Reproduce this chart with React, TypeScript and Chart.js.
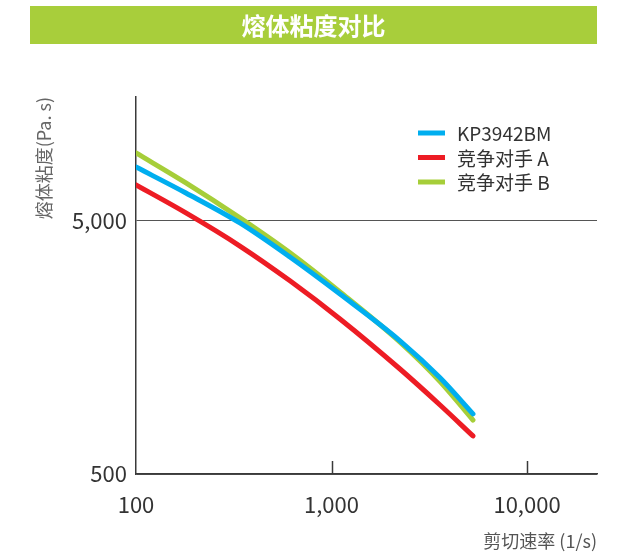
import React, { useEffect, useRef } from "react";
import { Chart, registerables } from "chart.js";

Chart.register(...registerables);

// ---- data ----
const shearRates = [100, 180, 340, 613, 1105, 2240, 3590, 5290];
const kp3942bm = [8170, 6450, 4910, 3600, 2570, 1680, 1200, 864];
const rivalA = [6940, 5380, 3980, 2900, 2050, 1300, 937, 707];
const rivalB = [9290, 7070, 5140, 3740, 2620, 1660, 1160, 817];
const seriesLabels = ["KP3942BM", "竞争对手 A", "竞争对手 B"];
const seriesColors = ["#00aeef", "#ed1c24", "#a6ce39"];
const xTickValues = [100, 1000, 10000];
const xInnerTickValues = [1000, 10000];
const yTickValues = [500, 5000];
const chartTitle = "熔体粘度对比";
const xTitle = "剪切速率 (1/s)";
const yTitle = "熔体粘度(Pa. s)";

const FONT = "'Noto Sans CJK SC', 'Noto Sans', sans-serif";
const AXIS_COLOR = "#3a3a3a";

const fmt = (v: any) => Number(v).toLocaleString("en-US");

const decorPlugin = {
  id: "decor",
  beforeDraw(chart: any) {
    const ctx = chart.ctx;
    ctx.save();
    ctx.fillStyle = "#ffffff";
    ctx.fillRect(0, 0, chart.width, chart.height);
    ctx.fillStyle = "#a8ce3b";
    ctx.fillRect(30, 6, 567, 38);
    ctx.fillStyle = "#ffffff";
    ctx.font = `bold 24px ${FONT}`;
    ctx.textAlign = "center";
    ctx.textBaseline = "middle";
    ctx.fillText(chartTitle, 313.5, 26);
    ctx.restore();
  },
  afterDraw(chart: any) {
    const ctx = chart.ctx;
    const xs = chart.scales.x;
    const area = chart.chartArea;
    ctx.save();
    // inward tick marks on the x axis
    ctx.strokeStyle = AXIS_COLOR;
    ctx.lineWidth = 1.5;
    xInnerTickValues.forEach((v) => {
      const px = Math.round(xs.getPixelForValue(v)) + 0.5;
      ctx.beginPath();
      ctx.moveTo(px, area.bottom - 13);
      ctx.lineTo(px, area.bottom);
      ctx.stroke();
    });
    // legend
    chart.data.datasets.forEach((ds: any, i: number) => {
      const y = 133 + i * 24.5;
      ctx.strokeStyle = ds.borderColor;
      ctx.lineWidth = 5;
      ctx.lineCap = "butt";
      ctx.beginPath();
      ctx.moveTo(418, y);
      ctx.lineTo(445, y);
      ctx.stroke();
      ctx.fillStyle = "#333333";
      ctx.font = `19px ${FONT}`;
      ctx.textAlign = "left";
      ctx.textBaseline = "middle";
      ctx.fillText(ds.label, 457, y + 1);
    });
    ctx.restore();
  },
};

export default function App() {
  const ref = useRef<HTMLCanvasElement | null>(null);

  useEffect(() => {
    if (!ref.current) return;
    const seriesValues = [kp3942bm, rivalA, rivalB];
    const chart = new Chart(ref.current, {
      type: "line",
      data: {
        datasets: seriesValues.map((vals, i) => ({
          label: seriesLabels[i],
          data: shearRates.map((x, j) => ({ x, y: vals[j] })),
          borderColor: seriesColors[i],
          backgroundColor: seriesColors[i],
          borderWidth: 5,
          borderCapStyle: "round",
          pointRadius: 0,
          cubicInterpolationMode: "monotone",
          fill: false,
        })),
      },
      options: {
        responsive: false,
        animation: false,
        devicePixelRatio: 1,
        layout: { padding: { top: 97, right: 27, left: 0, bottom: 0 } },
        plugins: {
          legend: { display: false },
          title: { display: false },
          tooltip: { enabled: false },
        },
        scales: {
          x: {
            type: "logarithmic",
            min: 100,
            max: 22800,
            afterBuildTicks: (s: any) => {
              s.ticks = xTickValues.map((v) => ({ value: v }));
            },
            afterFit: (s: any) => {
              s.height = 84;
            },
            grid: { display: false, drawTicks: false },
            border: { display: true, color: AXIS_COLOR, width: 1.5 },
            ticks: {
              autoSkip: false,
              maxRotation: 0,
              padding: 17,
              color: "#333333",
              font: { family: FONT, size: 22 },
              callback: fmt,
            },
            title: {
              display: true,
              text: xTitle,
              align: "end",
              color: "#555555",
              font: { family: FONT, size: 18 },
              padding: { top: 0, bottom: 6 },
            },
          },
          y: {
            type: "logarithmic",
            min: 500,
            max: 15450,
            afterBuildTicks: (s: any) => {
              s.ticks = yTickValues.map((v) => ({ value: v }));
            },
            afterFit: (s: any) => {
              s.width = 136;
            },
            grid: { display: true, drawTicks: false, color: "#555555", lineWidth: 1 },
            border: { display: true, color: AXIS_COLOR, width: 1.5 },
            ticks: {
              autoSkip: false,
              padding: 9,
              color: "#333333",
              font: { family: FONT, size: 22 },
              callback: fmt,
            },
            title: {
              display: true,
              text: yTitle,
              align: "end",
              color: "#666666",
              font: { family: FONT, size: 18 },
              padding: { top: 33, bottom: 0 },
            },
          },
        },
      } as any,
      plugins: [decorPlugin],
    });
    return () => chart.destroy();
  }, []);

  return (
    <div style={{ position: "absolute", left: 0, top: 0, width: 624, height: 558 }}>
      <canvas ref={ref} width={624} height={558} />
    </div>
  );
}
